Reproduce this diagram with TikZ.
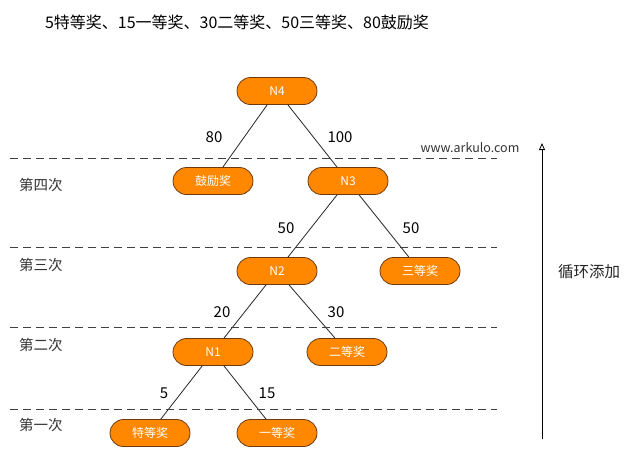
\documentclass[tikz,border=0pt]{standalone}
\usepackage{fontspec}
\newfontfamily\cjk{Noto Sans CJK SC}
\usepackage{tikz}
\usetikzlibrary{positioning}
\usetikzlibrary{shapes.misc}
\usetikzlibrary{arrows.meta}
\definecolor{prizeorange}{HTML}{FF8800}
\definecolor{prizeborder}{HTML}{6B3A12}
\tikzset{
	prize/.style={rounded rectangle, draw=prizeborder, fill=prizeorange, line width=0.8pt, minimum width=80pt, minimum height=27pt, inner sep=0pt, text=white, font=\cjk\fontsize{12}{14}\selectfont},
	weight/.style={font=\cjk\fontsize{15}{17}\selectfont},
	round/.style={font=\cjk\fontsize{14.5}{16}\selectfont, text=black!80},
	branch/.style={draw=black!85, line width=0.8pt},
	level/.style={dashed, dash pattern=on 8pt off 5pt, draw=black!75, line width=0.8pt}
}
\begin{document}
\begin{tikzpicture}[x=1pt,y=-1pt]
		\useasboundingbox (0,0) rectangle (634,458);
		
		\node at (237,22) [font=\cjk\fontsize{16}{18}\selectfont] (title) {5特等奖、15一等奖、30二等奖、50三等奖、80鼓励奖};
		
		% the tree, one row per round
		\node at (277,91) [prize] (N4) {N4};
		\node at (213,181) [prize] (gift) {鼓励奖};
		\node at (348,181) [prize] (N3) {N3};
		\node at (277,271) [prize] (N2) {N2};
		\node at (420,271) [prize] (third) {三等奖};
		\node at (213,352) [prize] (N1) {N1};
		\node at (347,352) [prize] (second) {二等奖};
		\node at (150,433) [prize] (special) {特等奖};
		\node at (277,433) [prize] (first) {一等奖};
		
		\draw [branch] (N4) -- (gift);
		\draw [branch] (N4) -- (N3);
		\draw [branch] (N3) -- (N2);
		\draw [branch] (N3) -- (third);
		\draw [branch] (N2) -- (N1);
		\draw [branch] (N2) -- (second);
		\draw [branch] (N1) -- (special);
		\draw [branch] (N1) -- (first);
		
		\node at (214,137) [weight] (w80) {80};
		\node at (340,137) [weight] (w100) {100};
		\node at (286,228) [weight] (w50a) {50};
		\node at (411,228) [weight] (w50b) {50};
		\node at (222,312) [weight] (w20) {20};
		\node at (336,312) [weight] (w30) {30};
		\node at (164,393) [weight] (w5) {5};
		\node at (267,393) [weight] (w15) {15};
		
		% round separators
		\foreach \y in {158,247,327,409}
			\draw [level] (10,\y) -- (497,\y);
		
		\node at (41,185) [round] (r4) {第四次};
		\node at (41,265) [round] (r3) {第三次};
		\node at (41,345) [round] (r2) {第二次};
		\node at (41,425) [round] (r1) {第一次};
		
		\node at (470,148) [font=\cjk\fontsize{12.5}{14}\selectfont, text=black!80] (site) {www.arkulo.com};
		
		\coordinate (loopbot) at (542,439);
		\coordinate (looptop) at (542,143);
		\draw [-{Triangle[open, length=7pt, width=6pt]}, line width=0.8pt] (loopbot) -- (looptop);
		\node at (589,272) [font=\cjk\fontsize{15.5}{17}\selectfont, text=black!85] (loop) {循环添加};
		
\end{tikzpicture}
\end{document}
